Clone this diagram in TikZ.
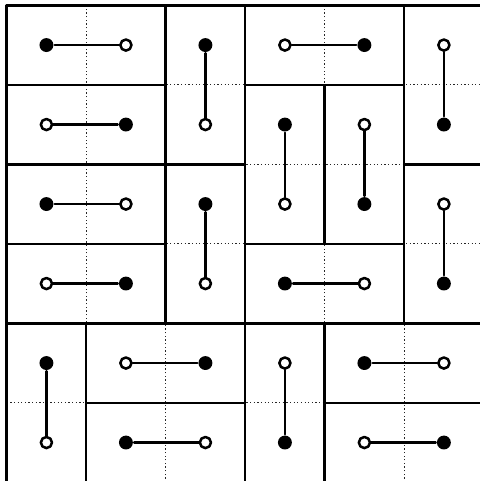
\documentclass[tikz,border=0pt]{standalone}
\begin{document}
\begin{tikzpicture}[line width=0.9pt,x=1cm,y=-1cm,line join=round,line cap=round]
\tikzset{blackdot/.style={circle,fill,inner sep=0pt,minimum size=0.175cm},
  whitedot/.style={circle,draw,fill=white,inner sep=0pt,minimum size=0.14cm},
  gridline/.style={line width=0.45pt,black!85,dash pattern=on 0.45pt off 0.85pt,line cap=butt}}
\useasboundingbox (-0.084,-0.067) rectangle (5.953,5.984);
\draw[gridline] (0,0) grid (6,6);
% cells: filled when col+row is even
\foreach \c in {0,...,5}
  \foreach \r in {0,...,5}{
    \pgfmathtruncatemacro\pty{mod(\c+\r,2)}
    \ifnum\pty=0
      \node[blackdot] (d\c\r) at (\c+0.5,\r+0.5) {};
    \else
      \node[whitedot] (d\c\r) at (\c+0.5,\r+0.5) {};
    \fi
  }
% dominoes: col/row/width/height
\foreach \c/\r/\w/\h in {0/0/2/1,3/0/2/1,0/1/2/1,0/2/2/1,0/3/2/1,3/3/2/1,1/4/2/1,4/4/2/1,1/5/2/1,4/5/2/1,
    2/0/1/2,5/0/1/2,3/1/1/2,4/1/1/2,2/2/1/2,5/2/1/2,0/4/1/2,3/4/1/2}{
  \pgfmathtruncatemacro\cc{\c+\w-1}
  \pgfmathtruncatemacro\rr{\r+\h-1}
  \draw (\c,\r) rectangle ++(\w,\h);
  \draw (d\c\r)--(d\cc\rr);
}
\end{tikzpicture}
\end{document}
